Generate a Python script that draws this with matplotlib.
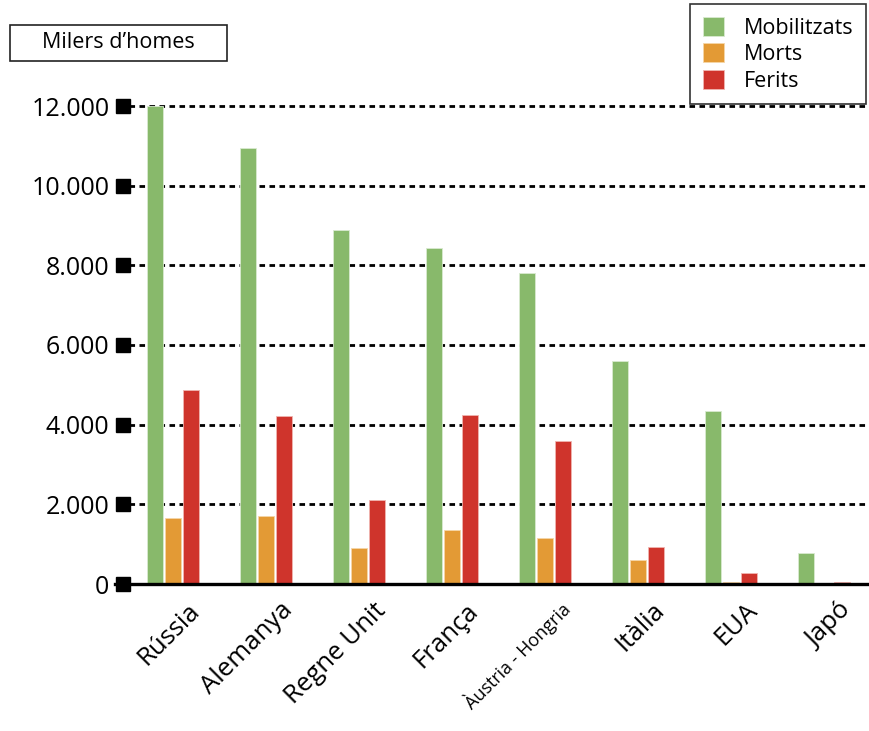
import matplotlib.pyplot as plt
import matplotlib.patches as mpatches
import matplotlib.transforms as mtransforms
import numpy as np

plt.rcParams['font.family'] = ['Open Sans', 'DejaVu Sans']

# dades (milers d'homes)
paisos = ['Rússia', 'Alemanya', 'Regne Unit', 'França', 'Àustria - Hongria', 'Itàlia', 'EUA', 'Japó']
mobilitzats = [12000, 10950, 8890, 8430, 7800, 5600, 4350, 790]
morts = [1650, 1710, 900, 1360, 1160, 590, 60, 0]
ferits = [4870, 4210, 2100, 4240, 3590, 930, 280, 60]
yticks = [0, 2000, 4000, 6000, 8000, 10000, 12000]
ytick_labels = ['0', '2.000', '4.000', '6.000', '8.000', '10.000', '12.000']

verd = '#88b96b'
taronja = '#e39a35'
vermell = '#cf342c'

fig = plt.figure(figsize=(8.69, 7.31), dpi=100)
ax = fig.add_axes([115/869, 1 - 584/731, 1 - 115/869, (584 - 106)/731])

x = np.arange(len(paisos))
w = 0.175
step = 0.195
ax.bar(x - step, mobilitzats, w, color=verd, edgecolor='#d9ead0', linewidth=0.6, zorder=3, label='Mobilitzats')
ax.bar(x, morts, w, color=taronja, edgecolor='#f5d6a8', linewidth=0.6, zorder=3, label='Morts')
ax.bar(x + step, ferits, w, color=vermell, edgecolor='#f0b5b0', linewidth=0.6, zorder=3, label='Ferits')

ax.set_xlim((115 - 173) / 93, (869 - 173) / 93)
ax.set_ylim(0, 12000)

# linies de graella puntejades
for t in yticks[1:]:
    ax.axhline(t, xmin=0.018, xmax=1, color='black', lw=2, ls=(0, (2, 1.6)), zorder=1, clip_on=False)

# quadrats negres als ticks
ax.plot([0.01] * len(yticks), yticks, 's', color='black', markersize=10,
        transform=ax.get_yaxis_transform(), clip_on=False, zorder=4)

for s in ['top', 'right', 'left']:
    ax.spines[s].set_visible(False)
ax.spines['bottom'].set_linewidth(2.4)
ax.spines['bottom'].set_zorder(5)

ax.set_yticks(yticks)
ax.set_yticklabels(ytick_labels, fontsize=18)
ax.tick_params(axis='y', length=0, pad=4)

ax.set_xticks(x)
ax.set_xticklabels([])
ax.tick_params(axis='x', length=0)
offset = mtransforms.offset_copy(ax.get_xaxis_transform(), fig=fig, x=14, y=-14, units='dots')
for i, p in enumerate(paisos):
    fs = 13 if p.startswith('Àustria') else 18.5
    ax.text(x[i], 0, p, transform=offset, rotation=45, rotation_mode='anchor',
            ha='right', va='top', fontsize=fs)

# caixa "Milers d'homes"
fig.patches.append(mpatches.Rectangle((10/869, 1 - 61/731), 217/869, 36/731,
                                      transform=fig.transFigure, fill=False,
                                      edgecolor='#222222', lw=1.2))
fig.text(118/869, 1 - 43/731, 'Milers d\u2019homes', ha='center', va='center', fontsize=15.5)

leg = fig.legend(loc='upper right', bbox_to_anchor=(866/869, 1 - 4/731), fontsize=15.5,
                 frameon=True, fancybox=False, edgecolor='black', handlelength=1.0,
                 handleheight=1.0, handletextpad=0.9, labelspacing=0.2, borderpad=0.6,
                 borderaxespad=0)
leg.get_frame().set_linewidth(1.2)

fig.savefig('out.png', dpi=100)
